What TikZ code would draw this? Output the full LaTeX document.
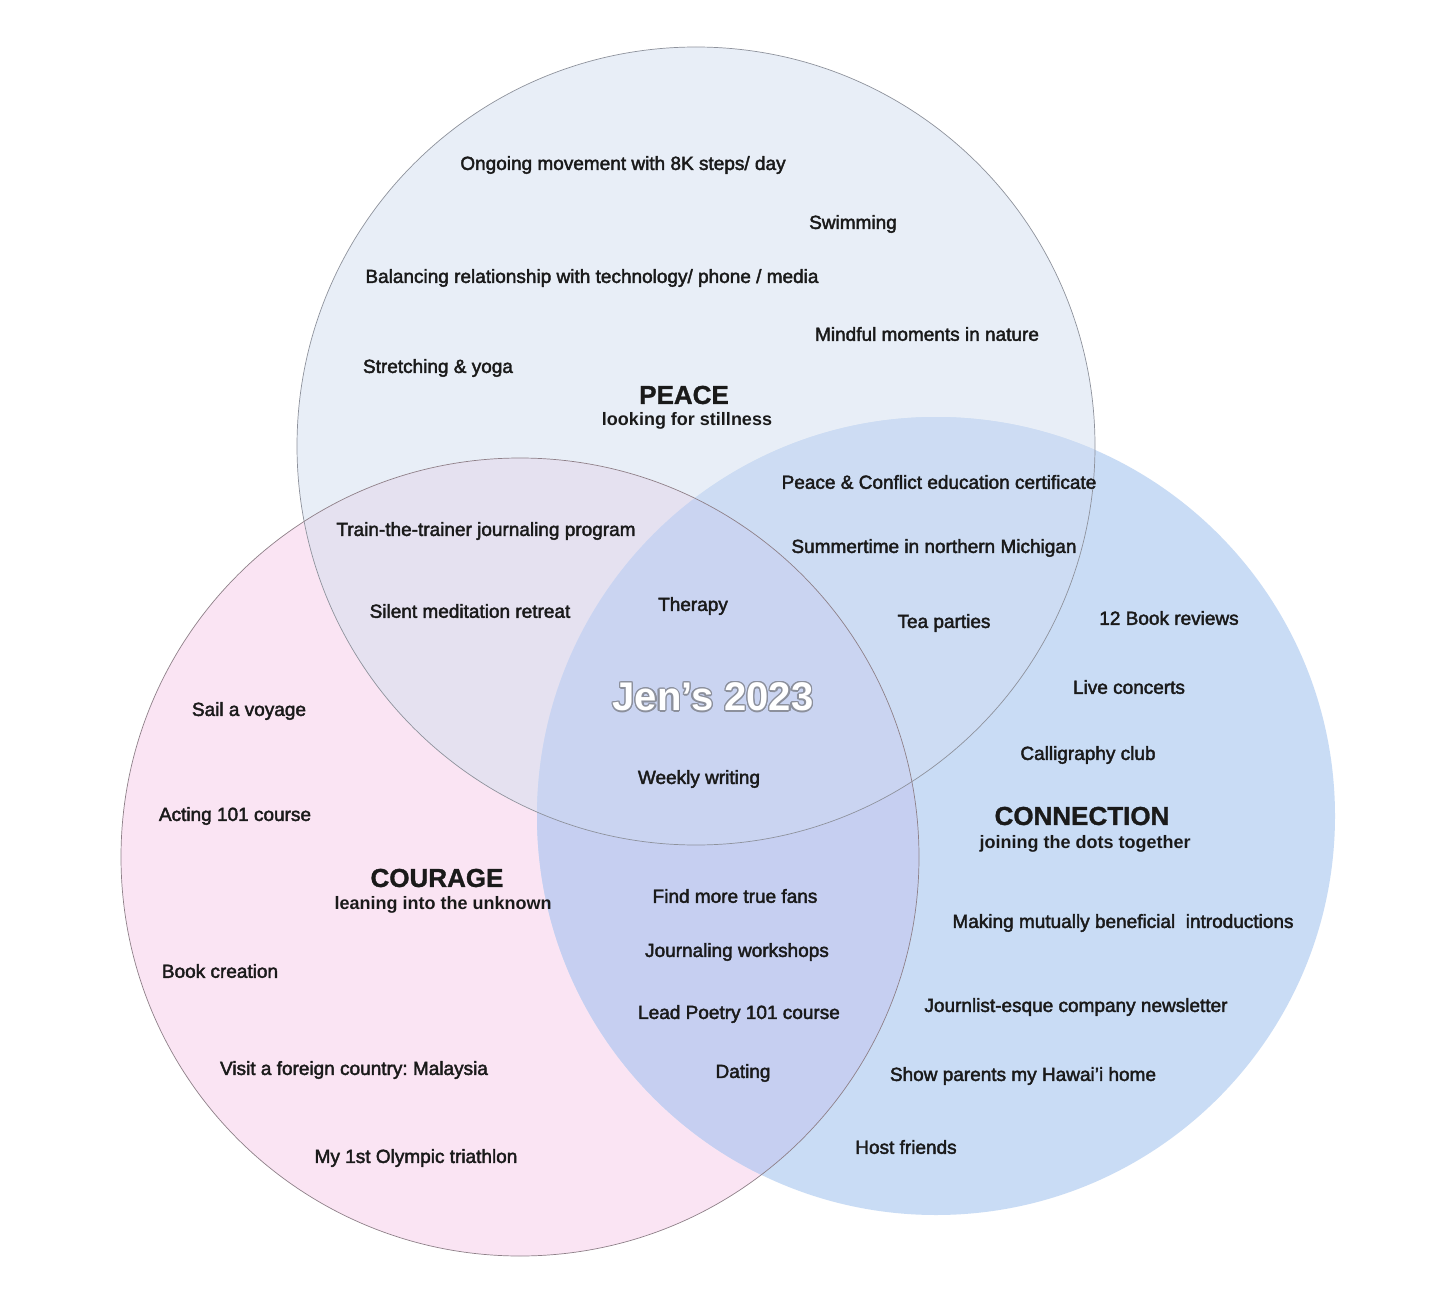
\documentclass[tikz,border=0pt]{standalone}
\usepackage{fontspec}
\usetikzlibrary{calc}
\setmainfont{Liberation Sans}[FakeBold=2.2]
\newfontfamily\titlefont{Liberation Sans Bold}[FakeBold=1.2]
\newfontfamily\subfont{Liberation Sans Bold}
\frenchspacing
\definecolor{txt}{HTML}{1A1A1A}
\definecolor{cpeace}{HTML}{E8EEF7}
\definecolor{ccour}{HTML}{FAE4F3}
\definecolor{cconn}{HTML}{C9DCF5}
\definecolor{cpc}{HTML}{E5E1F0}
\definecolor{cpn}{HTML}{CDDCF3}
\definecolor{ccn}{HTML}{C6CFF1}
\definecolor{cmid}{HTML}{CAD4F1}
\definecolor{ringp}{HTML}{8E929C}
\definecolor{ringc}{HTML}{8E8088}
\definecolor{jenline}{HTML}{8C909C}
\tikzset{
  item/.style={text=txt, font=\fontsize{19}{22}\selectfont, inner sep=0pt},
  ttl/.style={text=txt, font=\titlefont\fontsize{26}{30}\selectfont, inner sep=0pt},
  sub/.style={text=txt, font=\subfont\fontsize{18}{21}\selectfont, inner sep=0pt},
  jen/.style={font=\subfont\fontsize{40}{46}\selectfont, inner sep=0pt}
}
\begin{document}
\begin{tikzpicture}[x=1pt,y=-1pt]
\useasboundingbox (0,0) rectangle (1456,1289);
\fill[white] (0,0) rectangle (1456,1289);
% circles
\coordinate (P) at (696,446);
\coordinate (C) at (520,857);
\coordinate (N) at (936,816);
\def\rr{399}
\fill[cpeace] (P) circle (\rr);
\fill[ccour] (C) circle (\rr);
\fill[cconn] (N) circle (\rr);
\begin{scope}
  \clip (P) circle (\rr);
  \fill[cpc] (C) circle (\rr);
  \fill[cpn] (N) circle (\rr);
  \clip (C) circle (\rr);
  \fill[cmid] (N) circle (\rr);
\end{scope}
\begin{scope}
  \clip (C) circle (\rr);
  \clip (N) circle (\rr);
  \begin{scope}[even odd rule]
    \clip (P) circle (\rr) (-100,-100) rectangle (1600,1400);
    \fill[ccn] (N) circle (\rr);
  \end{scope}
\end{scope}
\draw[ringp, line width=0.7pt] (P) circle (\rr);
\draw[ringc, line width=0.7pt] (C) circle (\rr);

% PEACE
\node[item] (p1) at (623,165) {Ongoing movement with 8K steps/ day};
\node[item] (p2) at (853,224) {Swimming};
\node[item] (p3) at (592,278) {Balancing relationship with technology/ phone / media};
\node[item] (p4) at (927,334) {Mindful moments in nature};
\node[item] (p5) at (438,368) {Stretching \& yoga};
\node[ttl] (pt) at (684,395) {PEACE};
\node[sub] (ps) at (687,421) {looking for stillness};
% overlaps
\node[item] (pn1) at (939,482) {Peace \& Conflict education certificate};
\node[item] (pc1) at (486,531) {Train-the-trainer journaling program};
\node[item] (pn2) at (934,548) {Summertime in northern Michigan};
\node[item] (pc2) at (470,611) {Silent meditation retreat};
\node[item] (m1) at (693,606) {Therapy};
\node[item] (pn3) at (944,623) {Tea parties};
\node[item] (m2) at (699,779) {Weekly writing};
% Jen's 2023
\foreach \a in {0,22.5,...,337.5}{
  \node[jen, text=jenline] at ($(713,697)+(\a:1.3)$) {Jen’s 2023};
}
\node[jen, text=white] (jen) at (713,697) {Jen’s 2023};
% CONNECTION
\node[item] (n1) at (1169,618) {12 Book reviews};
\node[item] (n2) at (1129,687) {Live concerts};
\node[item] (n3) at (1088,755) {Calligraphy club};
\node[ttl] (nt) at (1082,816) {CONNECTION};
\node[sub] (ns) at (1085,844) {joining the dots together};
\node[item] (n4) at (1123,923) {Making mutually beneficial\ \ introductions};
\node[item] (n5) at (1076,1007) {Journlist-esque company newsletter};
\node[item] (n6) at (1023,1076) {Show parents my Hawai’i home};
\node[item] (n7) at (906,1147) {Host friends};
% courage-connection
\node[item] (cn1) at (735,896) {Find more true fans};
\node[item] (cn2) at (737,952) {Journaling workshops};
\node[item] (cn3) at (739,1014) {Lead Poetry 101 course};
\node[item] (cn4) at (743,1073) {Dating};
% COURAGE
\node[item] (c1) at (249,711) {Sail a voyage};
\node[item] (c2) at (235,816) {Acting 101 course};
\node[ttl] (ct) at (437,878) {COURAGE};
\node[sub] (cs) at (443,905) {leaning into the unknown};
\node[item] (c3) at (220,971) {Book creation};
\node[item] (c4) at (354,1070) {Visit a foreign country: Malaysia};
\node[item] (c5) at (416,1158) {My 1st Olympic triathlon};
\end{tikzpicture}
\end{document}
